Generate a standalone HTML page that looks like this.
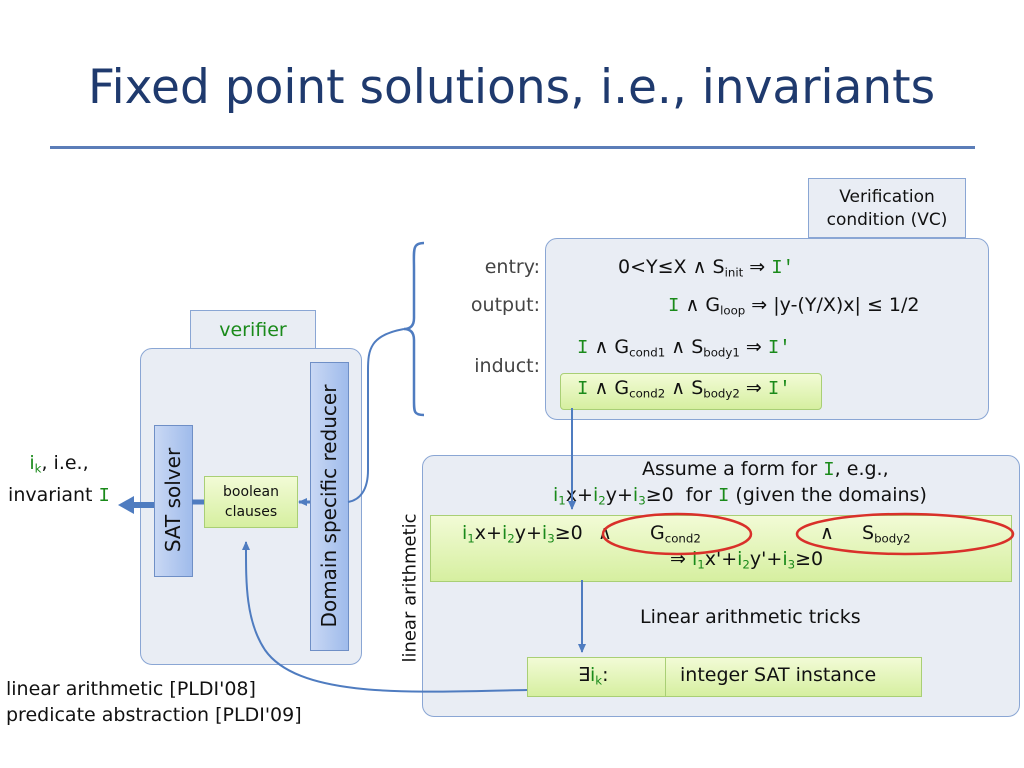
<!DOCTYPE html>
<html><head><meta charset="utf-8"><style>
body{margin:0;width:1024px;height:768px;background:#fff;position:relative;overflow:hidden;font-family:"DejaVu Sans","Liberation Sans",sans-serif;color:#111}
.a{position:absolute}
.g{color:#1a8a1a}
.I{font-family:"Liberation Mono",monospace;color:#1a8a1a}
sub{font-size:0.62em;vertical-align:-0.3em}
.box{position:absolute;background:#e9edf4;border:1.5px solid #8aa6d4;border-radius:12px}
.gr{position:absolute;background:linear-gradient(#f2fbd6,#d6efa0);border:1px solid #a9cf75}
.bl{position:absolute;background:linear-gradient(90deg,#c9d8f4,#9fbbeb);border:1px solid #6f8fc6}
.t{position:absolute;white-space:nowrap;font-size:19px}
</style></head><body>
<div class="a" style="left:88px;top:60px;font-size:47px;color:#1f3a6e;white-space:nowrap">Fixed point solutions, i.e., invariants</div>
<div class="a" style="left:50px;top:146px;width:925px;height:3px;background:#5b7db8"></div>

<div class="a" style="left:808px;top:178px;width:158px;height:60px;background:#e9edf4;border:1px solid #8aa6d4;text-align:center;font-size:17px;line-height:23px;padding-top:7px;box-sizing:border-box">Verification<br>condition (VC)</div>
<div class="box" style="left:545px;top:238px;width:442px;height:180px"></div>
<div class="t" style="right:484px;top:256px;color:#444">entry:</div>
<div class="t" style="right:484px;top:294px;color:#444">output:</div>
<div class="t" style="right:484px;top:355px;color:#444">induct:</div>
<div class="t" style="left:618px;top:256px">0&lt;Y≤X ∧ S<sub>init</sub> ⇒ <span class="I">I'</span></div>
<div class="t" style="left:668px;top:294px"><span class="I">I</span> ∧ G<sub>loop</sub> ⇒ |y-(Y/X)x| ≤ 1/2</div>
<div class="t" style="left:577px;top:336px"><span class="I">I</span> ∧ G<sub>cond1</sub> ∧ S<sub>body1</sub> ⇒ <span class="I">I'</span></div>
<div class="gr" style="left:560px;top:373px;width:260px;height:35px;border-radius:4px"></div>
<div class="t" style="left:577px;top:377px"><span class="I">I</span> ∧ G<sub>cond2</sub> ∧ S<sub>body2</sub> ⇒ <span class="I">I'</span></div>

<div class="a" style="left:190px;top:310px;width:124px;height:38px;background:#e9edf4;border:1px solid #8aa6d4;text-align:center;font-size:19px;line-height:38px" ><span class="g">verifier</span></div>
<div class="box" style="left:140px;top:348px;width:220px;height:315px"></div>
<div class="bl" style="left:154px;top:425px;width:37px;height:150px"></div>
<div class="t" style="left:173px;top:500px;transform:translate(-50%,-50%) rotate(-90deg);font-size:20px">SAT solver</div>
<div class="bl" style="left:310px;top:362px;width:37px;height:287px"></div>
<div class="t" style="left:329px;top:506px;transform:translate(-50%,-50%) rotate(-90deg);font-size:20px">Domain specific reducer</div>
<div class="gr" style="left:204px;top:476px;width:94px;height:52px;text-align:center;font-size:14px;line-height:20px;padding-top:5px;box-sizing:border-box">boolean<br>clauses</div>
<div class="t" style="left:0;width:118px;text-align:center;top:450px;line-height:26px"><span class="g">i<sub>k</sub></span>, i.e.,<br>invariant <span class="I">I</span></div>

<div class="box" style="left:422px;top:455px;width:596px;height:260px"></div>
<div class="t" style="left:410px;top:588px;transform:translate(-50%,-50%) rotate(-90deg);font-size:18px">linear arithmetic</div>
<div class="t" style="left:642px;top:458px">Assume a form for <span class="I">I</span>, e.g.,</div>
<div class="t" style="left:553px;top:484px"><span class="g">i<sub>1</sub></span>x+<span class="g">i<sub>2</sub></span>y+<span class="g">i<sub>3</sub></span>≥0 &nbsp;for <span class="I">I</span> (given the domains)</div>
<div class="gr" style="left:430px;top:515px;width:580px;height:65px"></div>
<div class="t" style="left:462px;top:522px"><span class="g">i<sub>1</sub></span>x+<span class="g">i<sub>2</sub></span>y+<span class="g">i<sub>3</sub></span>≥0</div>
<div class="t" style="left:598px;top:522px">∧</div>
<div class="t" style="left:650px;top:522px">G<sub>cond2</sub></div>
<div class="t" style="left:820px;top:522px">∧</div>
<div class="t" style="left:862px;top:522px">S<sub>body2</sub></div>
<div class="t" style="left:670px;top:548px">⇒ <span class="g">i<sub>1</sub></span>x'+<span class="g">i<sub>2</sub></span>y'+<span class="g">i<sub>3</sub></span>≥0</div>
<div class="t" style="left:640px;top:606px">Linear arithmetic tricks</div>
<div class="gr" style="left:527px;top:657px;width:138px;height:38px"></div>
<div class="gr" style="left:665px;top:657px;width:255px;height:38px"></div>
<div class="t" style="left:578px;top:664px">∃<span class="g">i<sub>k</sub></span>:</div>
<div class="t" style="left:680px;top:664px">integer SAT instance</div>
<div class="t" style="left:6px;top:676px;line-height:26px">linear arithmetic [PLDI'08]<br>predicate abstraction [PLDI'09]</div>

<svg class="a" style="left:0;top:0" width="1024" height="768">
<defs><marker id="m" markerUnits="userSpaceOnUse" markerWidth="10" markerHeight="10" refX="8" refY="5" orient="auto"><path d="M0,1L9,5L0,9z" fill="#4f7cc0"/></marker></defs>
<path d="M424,243 C412,243 414,250 414,270 L414,318 C414,326 410,329 404,329 C410,329 414,332 414,340 L414,400 C414,412 414,415 424,415" fill="none" stroke="#4f7cc0" stroke-width="2.5"/>
<path d="M404,329 C370,335 368,350 368,370 L368,470 C368,490 360,500 348,502" fill="none" stroke="#4f7cc0" stroke-width="2"/>
<line x1="310" y1="502" x2="299" y2="502" stroke="#4f7cc0" stroke-width="3" marker-end="url(#m)"/>
<line x1="204" y1="502" x2="192" y2="502" stroke="#4f7cc0" stroke-width="5"/>
<line x1="154" y1="505" x2="128" y2="505" stroke="#4f7cc0" stroke-width="6"/>
<path d="M118,505 L134,496 L134,514z" fill="#4f7cc0"/>
<line x1="572" y1="408" x2="572" y2="509" stroke="#4f7cc0" stroke-width="2" marker-end="url(#m)"/>
<line x1="582" y1="580" x2="582" y2="652" stroke="#4f7cc0" stroke-width="2" marker-end="url(#m)"/>
<path d="M527,690 C420,692 300,700 265,650 C245,620 246,580 246,542" fill="none" stroke="#4f7cc0" stroke-width="2" marker-end="url(#m)"/>
<ellipse cx="677" cy="534" rx="74" ry="20" fill="none" stroke="#d9302a" stroke-width="2.5"/>
<ellipse cx="905" cy="534" rx="108" ry="20" fill="none" stroke="#d9302a" stroke-width="2.5"/>
</svg>
</body></html>
